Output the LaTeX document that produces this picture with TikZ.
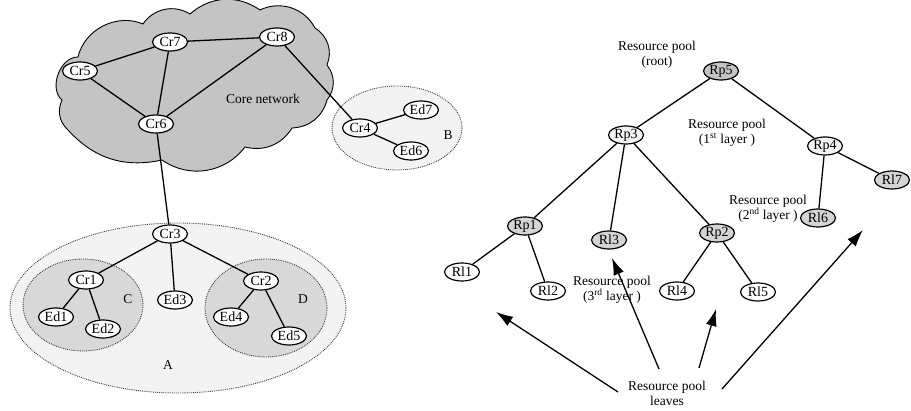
\documentclass[tikz,border=0pt]{standalone}
\usepackage{fontspec}
\setmainfont{Liberation Serif}
\usetikzlibrary{shapes.geometric,arrows.meta}
\definecolor{cloudgray}{RGB}{196,196,196}
\definecolor{regA}{RGB}{243,243,243}
\definecolor{regC}{RGB}{216,216,216}
\definecolor{nodegray}{RGB}{212,212,212}
\definecolor{rootgray}{RGB}{196,196,196}
\definecolor{paleg}{RGB}{244,244,244}
\begin{document}
\begin{tikzpicture}[x=1pt,y=-1pt,
  nd/.style={ellipse,draw,line width=1.2pt,fill=white,minimum width=35pt,minimum height=18pt,inner sep=0pt,font=\fontsize{14}{16}\selectfont},
  gnd/.style={nd,fill=nodegray},
  edge/.style={line width=1.3pt},
  region/.style={draw=black!75,densely dotted,line width=0.9pt},
  lbl/.style={font=\fontsize{13.5}{15}\selectfont,align=center,inner sep=0pt},
  arr/.style={line width=1.3pt,-{Latex[length=17pt,width=11pt]}}]
\useasboundingbox (0,0) rectangle (911,411);
% cloud
\draw[fill=cloudgray,line width=0.9pt]
  (78,57) to[bend left=50] (143,24) to[bend left=44] (190,14)
  to[bend left=38] (260,10) to[bend left=44] (315,28)
  to[bend left=40] (327,65) to[bend left=38] (327,100)
  to[bend left=36] (292,128) to[bend left=36] (245,147)
  to[bend left=44] (162,160) to[bend left=30] (68,130)
  to[bend left=36] (62,100) to[bend left=70] (78,57) -- cycle;
% regions
\draw[region,fill=regA] (178,308) ellipse [x radius=168,y radius=85];
\draw[region,fill=regC] (83,305) ellipse [x radius=60,y radius=46];
\draw[region,fill=regC] (266,308) ellipse [x radius=61,y radius=49];
\draw[region,fill=regA] (397,128) ellipse [x radius=65,y radius=42];
% left nodes
\node[nd] (cr7) at (170,42) {Cr7};
\node[nd] (cr8) at (277,37) {Cr8};
\node[nd] (cr5) at (80,71) {Cr5};
\node[nd] (cr6) at (156,124) {Cr6};
\node[nd] (cr4) at (360,128) {Cr4};
\node[nd] (ed7) at (421,110) {Ed7};
\node[nd] (ed6) at (411,151) {Ed6};
\node[nd] (cr3) at (170,234) {Cr3};
\node[nd] (cr1) at (86,280) {Cr1};
\node[nd] (cr2) at (261,281) {Cr2};
\node[nd] (ed3) at (175,300) {Ed3};
\node[nd] (ed1) at (56,317) {Ed1};
\node[nd] (ed2) at (103,329) {Ed2};
\node[nd] (ed4) at (231,317) {Ed4};
\node[nd] (ed5) at (289,336) {Ed5};
\node[lbl] (core) at (263,99) {Core network};
\node[lbl] (lb) at (448,135) {B};
\node[lbl] (lc) at (128,299) {C};
\node[lbl] (ld) at (303,299) {D};
\node[lbl] (la) at (168,365) {A};
\draw[edge] (cr5) -- (cr7);
\draw[edge] (cr7) -- (cr8);
\draw[edge] (cr5) -- (cr6);
\draw[edge] (cr7) -- (cr6);
\draw[edge] (cr8) -- (cr6);
\draw[edge] (cr8) -- (cr4);
\draw[edge] (cr4) -- (ed7);
\draw[edge] (cr4) -- (ed6);
\draw[edge] (cr6) -- (cr3);
\draw[edge] (cr3) -- (cr1);
\draw[edge] (cr3) -- (cr2);
\draw[edge] (cr3) -- (ed3);
\draw[edge] (cr1) -- (ed1);
\draw[edge] (cr1) -- (ed2);
\draw[edge] (cr2) -- (ed4);
\draw[edge] (cr2) -- (ed5);
% right tree
\node[nd,fill=rootgray] (rp5) at (721,71) {Rp5};
\node[nd,fill=paleg] (rp3) at (626,135) {Rp3};
\node[nd,fill=paleg] (rp4) at (825,146) {Rp4};
\node[gnd] (rl7) at (892,180) {Rl7};
\node[gnd] (rl6) at (818,218) {Rl6};
\node[gnd] (rp1) at (525,226) {Rp1};
\node[gnd] (rl3) at (609,240) {Rl3};
\node[gnd] (rp2) at (717,233) {Rp2};
\node[nd] (rl1) at (462,272) {Rl1};
\node[nd] (rl2) at (548,291) {Rl2};
\node[nd] (rl4) at (677,291) {Rl4};
\node[nd] (rl5) at (758,292) {Rl5};
\draw[edge] (rp5) -- (rp3);
\draw[edge] (rp5) -- (rp4);
\draw[edge] (rp3) -- (rp1);
\draw[edge] (rp3) -- (rl3);
\draw[edge] (rp3) -- (rp2);
\draw[edge] (rp4) -- (rl6);
\draw[edge] (rp4) -- (rl7);
\draw[edge] (rp1) -- (rl1);
\draw[edge] (rp1) -- (rl2);
\draw[edge] (rp2) -- (rl4);
\draw[edge] (rp2) -- (rl5);
\node[lbl] (lroot) at (657,55) {Resource pool\\(root)};
\node[lbl] (l1) at (727,133) {Resource pool\\(1\textsuperscript{st} layer )};
\node[lbl] (l2) at (768,209) {Resource pool\\(2\textsuperscript{nd} layer )};
\node[lbl] (l3) at (612,290) {Resource pool\\(3\textsuperscript{rd} layer )};
\node[lbl] (lleaves) at (667,393) {Resource pool\\leaves};
\coordinate (s1) at (618,392); \coordinate (t1) at (496,312);
\coordinate (s2) at (659,369); \coordinate (t2) at (612,258);
\coordinate (s3) at (699,368); \coordinate (t3) at (716,309);
\coordinate (s4) at (722,389); \coordinate (t4) at (863,230);
\draw[arr] (s1) -- (t1);
\draw[arr] (s2) -- (t2);
\draw[arr] (s3) -- (t3);
\draw[arr] (s4) -- (t4);
\end{tikzpicture}
\end{document}
